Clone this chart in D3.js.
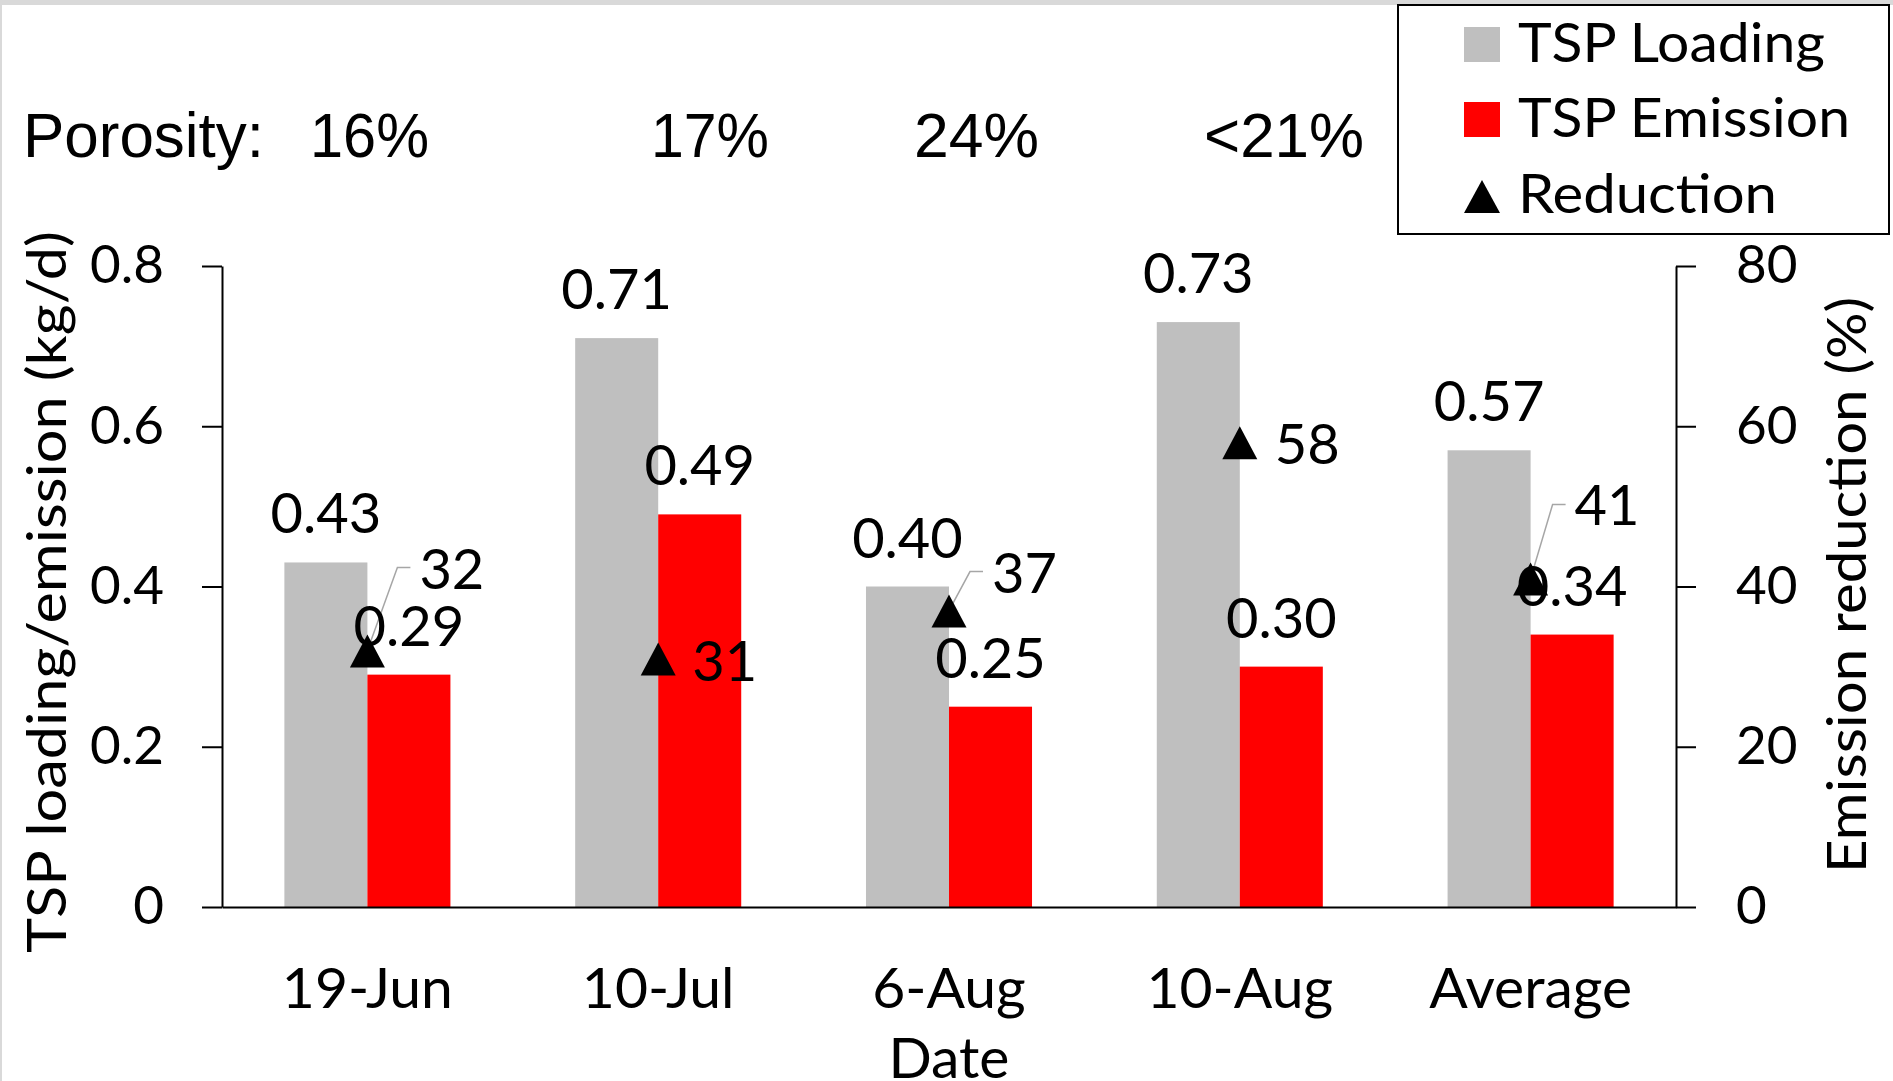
<!DOCTYPE html>
<html><head><meta charset="utf-8">
<script src="https://cdn.jsdelivr.net/npm/d3@7"></script>
<style>body{margin:0;background:#fff;} svg{display:block;}</style>
</head><body>
<svg id="chart" width="1893" height="1081"></svg>
<script>
// ---- data ----
const categories = ["19-Jun", "10-Jul", "6-Aug", "10-Aug", "Average"];
const tspLoading = [0.43, 0.71, 0.40, 0.73, 0.57];
const tspEmission = [0.29, 0.49, 0.25, 0.30, 0.34];
const reduction = [32, 31, 37, 58, 41];
const porosityLabels = ["16%", "17%", "24%", "<21%"];
const leftTicks = [0, 0.2, 0.4, 0.6, 0.8];
const rightTicks = [0, 20, 40, 60, 80];
const seriesNames = ["TSP Loading", "TSP Emission", "Reduction"];

// ---- layout ----
const W = 1893, H = 1081;
const plot = {left: 222, right: 1676, top: 266, bottom: 907};
const FONT = "Lato, 'Open Sans', sans-serif";
const ARIAL = "'Liberation Sans', Arial, sans-serif";
const colors = {load: "#BFBFBF", emis: "#FF0000", tri: "#000000"};
const porosityX = [310, 651, 914, 1204];
const porosityW = [119, 118, 125, 160];
const redLabelLayout = [
  {dx: 52, dy: -62, leader: true},
  {dx: 34, dy: 22, leader: false},
  {dx: 43, dy: -18, leader: true},
  {dx: 35, dy: 22, leader: false},
  {dx: 44, dy: -53, leader: true}
];

const svg = d3.select("#chart");
svg.append("rect").attr("width", W).attr("height", H).attr("fill", "#fff");
// frame remnants
svg.append("rect").attr("x", 0).attr("y", 0).attr("width", W).attr("height", 5).attr("fill", "#D9D9D9");
svg.append("rect").attr("x", 0).attr("y", 0).attr("width", 2).attr("height", H).attr("fill", "#D9D9D9");

// ---- scales ----
const x = d3.scaleBand().domain(categories).range([plot.left, plot.right]).paddingInner(0.429).paddingOuter(0.2145);
const xs = d3.scaleBand().domain(["load", "emis"]).range([0, x.bandwidth()]).padding(0);
const yL = d3.scaleLinear().domain([0, 0.8]).range([plot.bottom, plot.top]);
const yR = d3.scaleLinear().domain([0, 80]).range([plot.bottom, plot.top]);

// ---- bars ----
const rows = categories.map((c, i) => ({c, load: tspLoading[i], emis: tspEmission[i], red: reduction[i], i}));
const g = svg.append("g");
["load", "emis"].forEach(k => {
  g.selectAll("rect." + k).data(rows).join("rect").attr("class", k)
    .attr("x", d => x(d.c) + xs(k))
    .attr("width", xs.bandwidth())
    .attr("y", d => yL(d[k]))
    .attr("height", d => yL(0) - yL(d[k]))
    .attr("fill", colors[k]);
});

// ---- axes ----
function styleAxis(sel, fs) {
  sel.selectAll("path,line").attr("stroke", "#000").attr("stroke-width", 2);
  sel.selectAll("text").attr("font-family", FONT).attr("font-size", fs).attr("fill", "#000");
}
const axL = svg.append("g").attr("transform", `translate(${plot.left},0)`)
  .call(d3.axisLeft(yL).tickValues(leftTicks).tickSize(20).tickSizeOuter(0).tickPadding(38).tickFormat(d3.format("~g")));
styleAxis(axL, 53);
const axR = svg.append("g").attr("transform", `translate(${plot.right},0)`)
  .call(d3.axisRight(yR).tickValues(rightTicks).tickSize(20).tickSizeOuter(0).tickPadding(40).tickFormat(d3.format("~g")));
styleAxis(axR, 53);
const axB = svg.append("g").attr("transform", `translate(0,${plot.bottom})`)
  .call(d3.axisBottom(x).tickSize(0).tickSizeOuter(0).tickPadding(61));
styleAxis(axB, 57);

// axis titles
svg.append("text").attr("transform", `translate(66,592) rotate(-90)`).attr("text-anchor", "middle")
  .attr("font-family", FONT).attr("font-size", 55).attr("textLength", 722).attr("lengthAdjust", "spacingAndGlyphs")
  .text("TSP loading/emission (kg/d)");
svg.append("text").attr("transform", `translate(1866,585) rotate(-90)`).attr("text-anchor", "middle")
  .attr("font-family", FONT).attr("font-size", 55).attr("textLength", 576).attr("lengthAdjust", "spacingAndGlyphs")
  .text("Emission reduction (%)");
svg.append("text").attr("x", (plot.left + plot.right) / 2).attr("y", 1078).attr("text-anchor", "middle")
  .attr("font-family", FONT).attr("font-size", 57).text("Date");

// ---- reduction series ----
const tri = "M0,-16 L17.5,17 L-17.5,17 Z";
const cx = d => x(d.c) + x.bandwidth() / 2;
// leader lines
g.selectAll("path.leader").data(rows.filter(d => redLabelLayout[d.i].leader)).join("path").attr("class", "leader")
  .attr("d", d => {
    const L = redLabelLayout[d.i];
    const px = cx(d), py = yR(d.red);
    const lx = px + L.dx, ly = py + L.dy - 21;
    return `M${lx - 9},${ly} L${lx - 22},${ly} L${px},${py}`;
  })
  .attr("fill", "none").attr("stroke", "#A6A6A6").attr("stroke-width", 1.5);
g.selectAll("path.tri").data(rows).join("path").attr("class", "tri")
  .attr("transform", d => `translate(${cx(d)},${yR(d.red)})`)
  .attr("d", tri).attr("fill", colors.tri);

// ---- data labels ----
const f2 = d3.format(".2f");
["load", "emis"].forEach(k => {
  svg.selectAll("text.lbl" + k).data(rows).join("text").attr("class", "lbl" + k)
    .attr("x", d => x(d.c) + xs(k) + xs.bandwidth() / 2)
    .attr("y", d => yL(d[k]) - 29)
    .attr("text-anchor", "middle").attr("font-family", FONT).attr("font-size", 56)
    .text(d => f2(d[k]));
});
svg.selectAll("text.lblred").data(rows).join("text").attr("class", "lblred")
  .attr("x", d => cx(d) + redLabelLayout[d.i].dx)
  .attr("y", d => yR(d.red) + redLabelLayout[d.i].dy)
  .attr("font-family", FONT).attr("font-size", 56)
  .text(d => d.red);

// ---- porosity ----
svg.append("text").attr("x", 23).attr("y", 157).attr("font-family", ARIAL).attr("font-size", 63)
  .attr("textLength", 241).attr("lengthAdjust", "spacingAndGlyphs").text("Porosity:");
svg.selectAll("text.por").data(porosityLabels).join("text").attr("class", "por")
  .attr("x", (d, i) => porosityX[i]).attr("y", 157)
  .attr("font-family", ARIAL).attr("font-size", 63)
  .attr("textLength", (d, i) => porosityW[i]).attr("lengthAdjust", "spacingAndGlyphs")
  .text(d => d);

// ---- legend ----
const lg = svg.append("g");
lg.append("rect").attr("x", 1398).attr("y", 5).attr("width", 491).attr("height", 229)
  .attr("fill", "#fff").attr("stroke", "#000").attr("stroke-width", 2);
const legW = [307, 332, 259];
const legY = [62, 137, 213];
seriesNames.forEach((s, i) => {
  if (i < 2) {
    lg.append("rect").attr("x", 1464).attr("y", legY[i] - 35).attr("width", 36).attr("height", 35)
      .attr("fill", i === 0 ? colors.load : colors.emis);
  } else {
    lg.append("path").attr("transform", `translate(1482,${legY[i] - 17})`).attr("d", "M0,-16 L18,17 L-18,17 Z").attr("fill", colors.tri);
  }
  lg.append("text").attr("x", 1518).attr("y", legY[i]).attr("font-family", FONT).attr("font-size", 54)
    .attr("textLength", legW[i]).attr("lengthAdjust", "spacingAndGlyphs").text(s);
});
</script>
</body></html>
